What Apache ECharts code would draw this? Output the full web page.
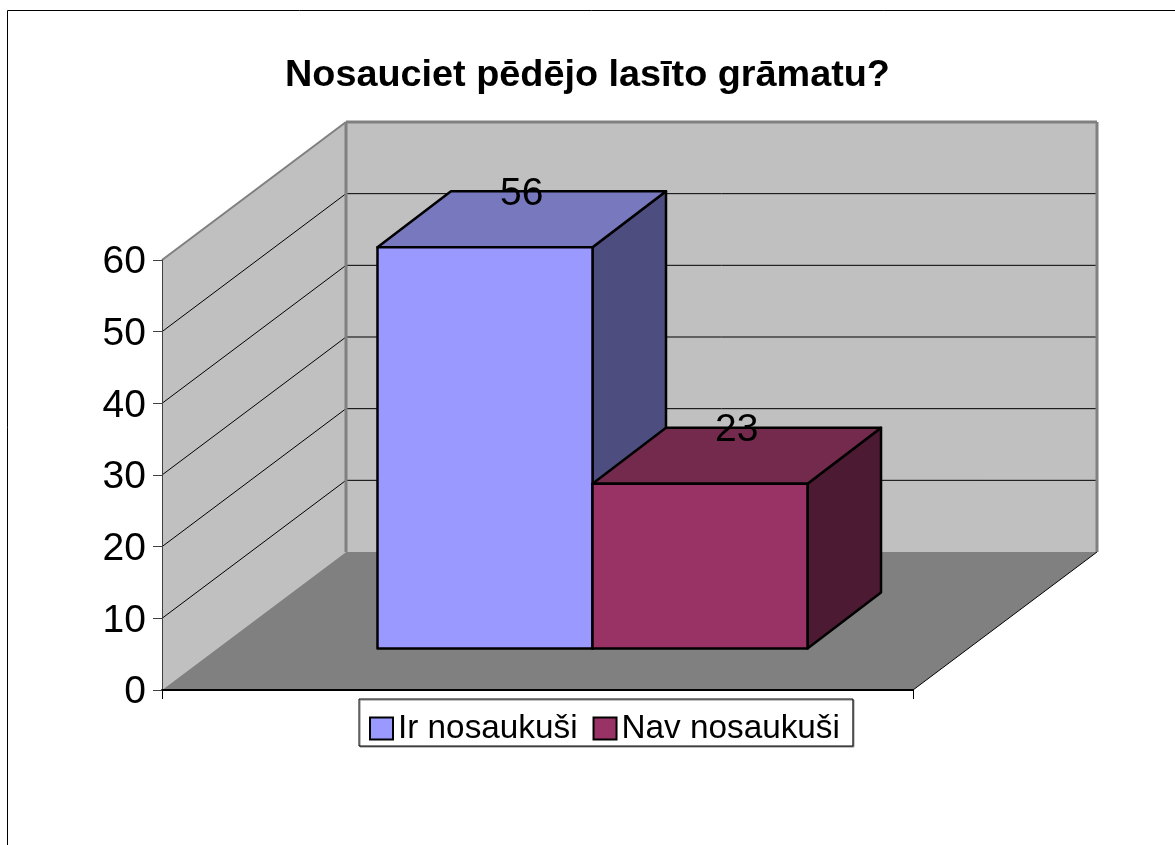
<!DOCTYPE html>
<html>
<head>
<meta charset="utf-8">
<style>html,body{margin:0;padding:0;background:#fff}#c{width:1175px;height:845px}</style>
<script src="https://cdn.jsdelivr.net/npm/echarts@6/dist/echarts.min.js"></script>
</head>
<body>
<div id="c"></div>
<script>
var titleText = 'Nosauciet pēdējo lasīto grāmatu?';
var seriesNames = ['Ir nosaukuši', 'Nav nosaukuši'];
var seriesValues = [56, 23];
var yTicks = [0, 10, 20, 30, 40, 50, 60];
var frontColors = ['#9999FF', '#993366'];
var topColors = ['#7878BE', '#732A4D'];
var sideColors = ['#4D4D80', '#4D1A33'];

var FONT = '"Liberation Sans", Arial, sans-serif';
var WALL_DX = 184, WALL_DY = -138;      // depth of the plot box
var BAR_DX0 = 55, BAR_DY0 = -41.5;      // bar front offset from the front edge
var BAR_DX = 73.5, BAR_DY = -56;        // depth of a bar
var BAR_FRAC = 0.2863;

function poly(pts, fill, stroke, lw) {
  return { type: 'polygon', shape: { points: pts },
    style: { fill: fill, stroke: stroke || null, lineWidth: lw || 0, lineJoin: 'round' } };
}
function line(a, b, stroke, lw) {
  return { type: 'line', shape: { x1: a[0], y1: a[1], x2: b[0], y2: b[1] },
    style: { stroke: stroke, lineWidth: lw, fill: null } };
}

function renderWalls(params, api) {
  var size = api.size([1, 0])[0];
  var c0 = api.coord([0, 0]), cT = api.coord([0, yTicks[yTicks.length - 1]]);
  var x0 = c0[0] - size / 2, x1 = c0[0] + size / 2, y0 = c0[1], yT = cT[1];
  var bx0 = x0 + WALL_DX, bx1 = x1 + WALL_DX, dy = WALL_DY;
  var kids = [
    poly([[x0, yT], [bx0, yT + dy], [bx0, y0 + dy], [x0, y0]], '#C0C0C0'),
    poly([[bx0, yT + dy], [bx1, yT + dy], [bx1, y0 + dy], [bx0, y0 + dy]], '#C0C0C0'),
    poly([[x0, y0], [x1, y0], [bx1, y0 + dy], [bx0, y0 + dy]], '#808080')
  ];
  yTicks.forEach(function (t) {
    if (t === 0 || t === yTicks[yTicks.length - 1]) return;
    var y = api.coord([0, t])[1];
    kids.push(line([x0, y], [bx0, y + dy], '#000', 1));
    kids.push(line([bx0, y + dy], [bx1, y + dy], '#000', 1));
  });
  kids.push(line([x0, yT], [bx0, yT + dy], '#808080', 2));
  kids.push(line([bx0, yT + dy], [bx1, yT + dy], '#808080', 3));
  kids.push(line([bx0, yT + dy], [bx0, y0 + dy], '#808080', 3));
  kids.push(line([bx1, yT + dy], [bx1, y0 + dy], '#808080', 3));
  kids.push(line([x1, y0], [bx1, y0 + dy], '#000', 1));
  return { type: 'group', children: kids };
}

function renderBar(idx) {
  return function (params, api) {
    var size = api.size([1, 0])[0];
    var w = size * BAR_FRAC;
    var cx = api.coord([0, 0])[0] + BAR_DX0;
    var xl = cx + (idx - 1) * w, xr = xl + w;
    var yb = api.coord([0, 0])[1] + BAR_DY0;
    var yt = api.coord([0, api.value(1)])[1] + BAR_DY0;
    var dx = BAR_DX, dy = BAR_DY;
    var k = '#000';
    return { type: 'group', children: [
      poly([[xr, yb], [xr + dx, yb + dy], [xr + dx, yt + dy], [xr, yt]], sideColors[idx], k, 2.5),
      poly([[xl, yt], [xl + dx, yt + dy], [xr + dx, yt + dy], [xr, yt]], topColors[idx], k, 2.5),
      poly([[xl, yb], [xr, yb], [xr, yt], [xl, yt]], frontColors[idx], k, 2.5),
      { type: 'text', z2: 10, style: {
          x: (xl + xr + dx) / 2, y: yt + dy + 3, text: String(api.value(1)),
          fill: '#000', font: '39px ' + FONT, align: 'center', verticalAlign: 'middle' } }
    ] };
  };
}

var chart = echarts.init(document.getElementById('c'), null, { renderer: 'canvas' });
chart.setOption({
  animation: false,
  backgroundColor: '#fff',
  title: { text: titleText, left: 'center', top: 52,
    textStyle: { fontFamily: FONT, fontSize: 37.8, fontWeight: 'bold', color: '#000' } },
  legend: {
    data: seriesNames, left: 359, top: 699, orient: 'horizontal',
    padding: [13, 13, 1, 10], itemGap: 15, itemWidth: 23, itemHeight: 22, icon: 'rect',
    backgroundColor: '#fff', borderColor: '#000', borderWidth: 1,
    shadowColor: '#808080', shadowBlur: 0, shadowOffsetX: 1, shadowOffsetY: 1,
    textStyle: { fontFamily: FONT, fontSize: 33.3, color: '#000' }
  },
  grid: { left: 162, right: 262, top: 260, bottom: 155 },
  xAxis: { type: 'category', data: [''], z: 5,
    axisLine: { show: true, lineStyle: { color: '#000', width: 2 } },
    axisTick: { show: true, alignWithLabel: false, length: 9, lineStyle: { color: '#000', width: 1 } },
    axisLabel: { show: false }, splitLine: { show: false } },
  yAxis: { type: 'value', min: yTicks[0], max: yTicks[yTicks.length - 1], interval: 10, z: 5,
    axisLine: { show: true, lineStyle: { color: '#404040', width: 1 } },
    axisTick: { show: true, length: 9, lineStyle: { color: '#404040', width: 1 } },
    axisLabel: { margin: 16,
      formatter: function (v) { return '{a|' + v + '}'; },
      rich: { a: { fontFamily: FONT, fontSize: 39, color: '#000', lineHeight: 44, verticalAlign: 'bottom' } } },
    splitLine: { show: false } },
  series: [
    { type: 'custom', name: 'walls', silent: true, z: 1, data: [[0, 0]], renderItem: renderWalls, encode: { x: 0, y: 1 } },
    { type: 'custom', name: seriesNames[0], z: 2, data: [[0, seriesValues[0]]], renderItem: renderBar(0), encode: { x: 0, y: 1 },
      itemStyle: { color: frontColors[0], borderColor: '#000', borderWidth: 2.5 } },
    { type: 'custom', name: seriesNames[1], z: 3, data: [[0, seriesValues[1]]], renderItem: renderBar(1), encode: { x: 0, y: 1 },
      itemStyle: { color: frontColors[1], borderColor: '#000', borderWidth: 2.5 } }
  ],
  graphic: [
    { type: 'line', silent: true, shape: { x1: 7.5, y1: 10.5, x2: 1175, y2: 10.5 }, style: { stroke: '#000', lineWidth: 1 } },
    { type: 'line', silent: true, shape: { x1: 7.5, y1: 10.5, x2: 7.5, y2: 845 }, style: { stroke: '#000', lineWidth: 1 } }
  ]
});
</script>
</body>
</html>
